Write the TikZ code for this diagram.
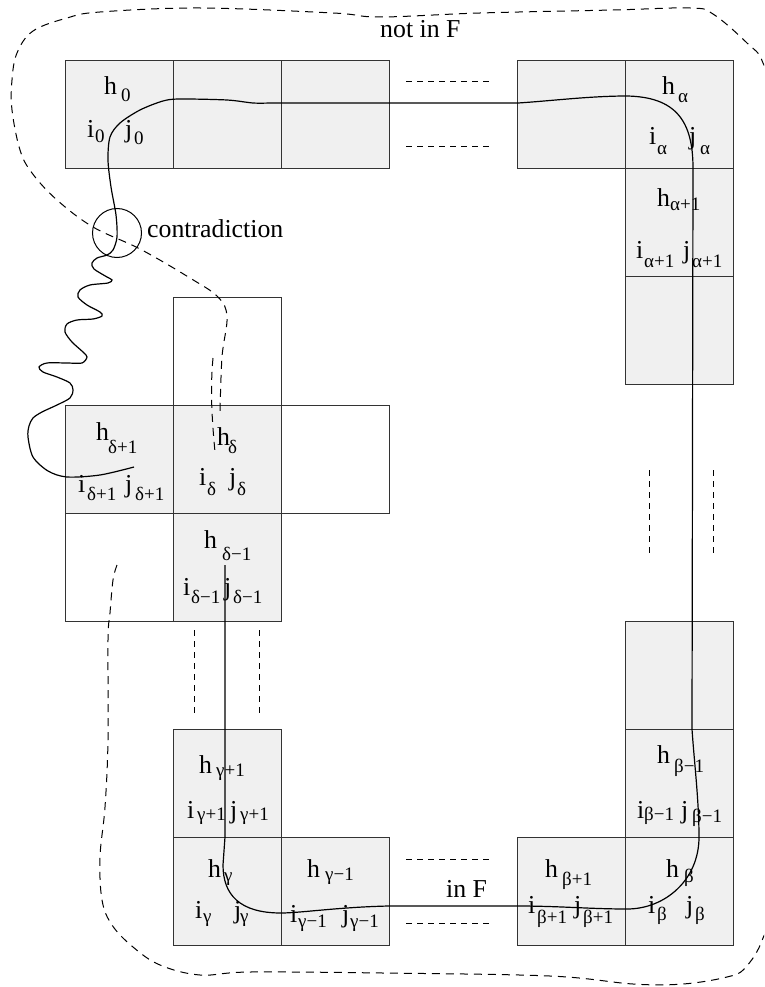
\documentclass[tikz,border=0pt]{standalone}
\usepackage{fontspec}
\setmainfont{Liberation Serif}
\newcommand\Sym[7]{\node[lab] (#1) at (#2,#3) {#4};\node[sublab] (#1s) at (#5,#6) {#7};}
\begin{document}
\begin{tikzpicture}[x=1pt,y=-1pt,
  cellg/.style={draw=black!80, fill=gray!12, line width=0.9pt, minimum width=108pt, minimum height=108pt, inner sep=0pt, outer sep=0pt, anchor=north west},
  cellw/.style={cellg, fill=white},
  lab/.style={inner sep=0pt, anchor=base west, font=\fontsize{25.8pt}{30pt}\selectfont},
  sublab/.style={inner sep=0pt, anchor=base west, font=\fontsize{19pt}{22pt}\selectfont},
  route/.style={line width=1.2pt},
  loopline/.style={line width=1pt, dash pattern=on 8pt off 6pt},
  gapline/.style={line width=0.9pt, dash pattern=on 6pt off 5pt}]
\useasboundingbox (0,0) rectangle (764,987);
\clip (0,0) rectangle (764,987);
% cells
\node[cellg] (t1) at (65,60) {};
\node[cellg] (t2) at (173,60) {};
\node[cellg] (t3) at (281,60) {};
\node[cellg] (t4) at (517,60) {};
\node[cellg] (t5) at (625,60) {};
\node[cellg] (r1) at (625,168) {};
\node[cellg] (r2) at (625,276) {};
\node[cellw] (m1) at (173,297) {};
\node[cellg] (m2) at (65,405) {};
\node[cellg] (m3) at (173,405) {};
\node[cellw] (m4) at (281,405) {};
\node[cellw] (m5) at (65,513) {};
\node[cellg] (m6) at (173,513) {};
\node[cellg] (b1) at (173,729) {};
\node[cellg] (b2) at (173,837) {};
\node[cellg] (b3) at (281,837) {};
\node[cellg] (b4) at (625,621) {};
\node[cellg] (b5) at (625,729) {};
\node[cellg] (b6) at (625,837) {};
\node[cellg] (b7) at (517,837) {};
% gap markers
\draw[gapline] (406,81) -- (493,81);
\draw[gapline] (406,146) -- (493,146);
\draw[gapline] (406,859) -- (493,859);
\draw[gapline] (406,923) -- (493,923);
\draw[gapline] (649,470) -- (649,557);
\draw[gapline] (713,470) -- (713,557);
\draw[gapline] (194,630) -- (194,717);
\draw[gapline] (259,630) -- (259,717);
% labels
\Sym{h0}{104}{95}{h}{121}{102}{0}
\Sym{i0}{87}{138}{i}{95}{143}{0}
\Sym{j0}{125}{138}{j}{134}{145}{0}
\Sym{ha}{662}{95}{h}{678}{103}{α}
\Sym{ia}{649}{145}{i}{657}{155}{α}
\Sym{ja}{689}{145}{j}{700}{155}{α}
\Sym{haa}{657}{207}{h}{670}{211}{α+1}
\Sym{iaa}{636}{258}{i}{644}{267}{α+1}
\Sym{jaa}{683}{258}{j}{692}{267}{α+1}
\Sym{hdp}{96}{440}{h}{108}{453}{δ+1}
\Sym{idp}{78}{492}{i}{87}{500}{δ+1}
\Sym{jdp}{125}{492}{j}{135}{500}{δ+1}
\Sym{hd}{217}{445}{h}{228}{453}{δ}
\Sym{id}{199}{485}{i}{207}{495}{δ}
\Sym{jd}{229}{485}{j}{237}{495}{δ}
\Sym{hdm}{204}{548}{h}{222}{560}{δ−1}
\Sym{idm}{183}{595}{i}{191}{603}{δ−1}
\Sym{jdm}{224}{595}{j}{233}{603}{δ−1}
\Sym{hgp}{199}{773}{h}{216}{776}{γ+1}
\Sym{igp}{187}{818}{i}{197}{820}{γ+1}
\Sym{jgp}{230}{818}{j}{240}{820}{γ+1}
\Sym{hg}{208}{877}{h}{224}{881}{γ}
\Sym{ig}{195}{918}{i}{203}{922}{γ}
\Sym{jg}{234}{918}{j}{240}{922}{γ}
\Sym{hgm}{307}{877}{h}{325}{880}{γ−1}
\Sym{igm}{290}{922}{i}{298}{927}{γ−1}
\Sym{jgm}{342}{922}{j}{350}{927}{γ−1}
\Sym{hbm}{657}{763}{h}{674}{772}{β−1}
\Sym{ibm}{637}{818}{i}{644}{820}{β−1}
\Sym{jbm}{681}{818}{j}{692}{822}{β−1}
\Sym{hbp}{545}{877}{h}{562}{885}{β+1}
\Sym{ibp}{528}{913}{i}{537}{923}{β+1}
\Sym{jbp}{574}{913}{j}{583}{923}{β+1}
\Sym{hb}{666}{877}{h}{684}{882}{β}
\Sym{ib}{648}{913}{i}{657}{920}{β}
\Sym{jb}{686}{913}{j}{695}{920}{β}
\node[lab] (notF) at (380,38) {not in F};
\node[lab] (inF) at (446,897) {in F};
\node[lab] (contr) at (147,237) {contradiction};
\node[circle, draw, line width=1pt, minimum size=49pt, inner sep=0pt] (circ) at (117,233) {};
% dashed loop
\draw[loopline] plot[smooth, tension=0.6] coordinates {(117,565) (113,580) (110,613) (108,640) (108,740) (105,807) (100,857) (102,900) (112,925) (133,947) (160,965) (200,975) (250,972) (383,973) (550,976) (633,984) (683,984) (727,977) (745,968) (763,938) (776,880) (780,500) (776,120) (763,63) (747,43) (713,14) (690,8) (613,10) (480,13) (380,17) (333,13) (200,8) (100,12) (67,18) (33,31) (17,53) (12,80) (12,110) (20,150) (32,173) (57,200) (93,227) (140,249) (190,278) (218,297) (227,317) (222,357) (220,413)};
\draw[loopline] (213,358) .. controls (210,390) and (212,420) .. (215,452);
% solid route
\draw[route] plot[smooth, tension=0.5] coordinates {(134,467) (100,475) (67,477) (48,471) (33,457) (28,437) (29,426) (33,418) (42,412) (57,405) (70,398) (73,390) (70,383) (57,377) (43,372) (39,367) (47,363) (67,363) (82,363) (87,357) (83,352) (72,342) (65,332) (67,324) (77,320) (93,319) (102,316) (100,312) (87,305) (78,297) (80,290) (90,285) (108,283) (112,280) (107,277) (94,269) (92,263) (97,258) (107,255) (113,250) (117,237) (116,215) (111,187) (108,160) (110,137) (120,123) (140,110) (163,101) (180,99) (227,100) (253,103) (270,103)}
  -- (518,103) .. controls (550,101) and (590,96) .. (627,96)
  .. controls (675,97) and (693,120) .. (693,168) -- (692,729)
  .. controls (694,760) and (699,800) .. (699,837)
  .. controls (699,880) and (665,909) .. (627,909)
  .. controls (590,909) and (560,906) .. (517,906) -- (389,906)
  .. controls (340,907) and (300,913) .. (281,913)
  .. controls (240,913) and (223,895) .. (223,865) -- (225,837) -- (225,565);
\end{tikzpicture}
\end{document}
